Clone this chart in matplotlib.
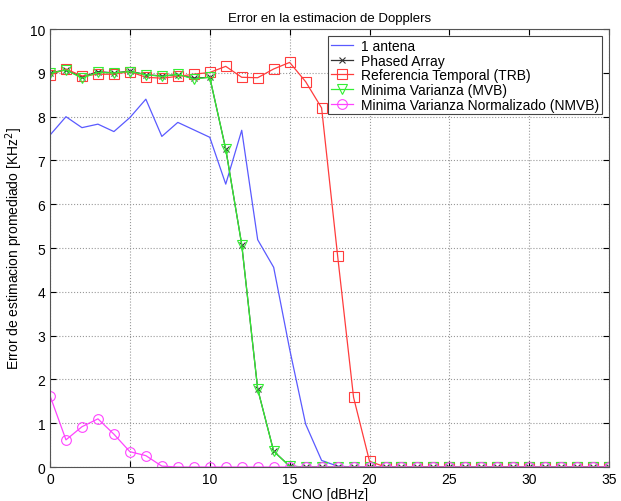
import numpy as np
import matplotlib.pyplot as plt

plt.rcParams['font.family'] = ['Liberation Sans', 'DejaVu Sans']

cno = np.arange(0, 36)

# values, tail is zero
antena = [7.58, 8.0, 7.75, 7.83, 7.66, 7.98, 8.40, 7.55, 7.87, 7.70, 7.53,
          6.46, 7.69, 5.19, 4.56, 2.69, 0.98, 0.15, 0.02] + [0.0] * 17
phased = [9.0, 9.07, 8.9, 9.03, 9.0, 9.04, 8.96, 8.93, 8.96, 8.88, 8.9,
          7.26, 5.08, 1.78, 0.36, 0.02] + [0.0] * 20
trb = [8.95, 9.09, 8.93, 8.97, 8.97, 9.03, 8.9, 8.88, 8.92, 8.97, 9.01,
       9.15, 8.9, 8.89, 9.09, 9.24, 8.8, 8.2, 4.83, 1.59, 0.13] + [0.0] * 15
mvb = [8.99, 9.07, 8.88, 9.01, 9.0, 9.03, 8.96, 8.92, 8.97, 8.86, 8.9,
       7.26, 5.08, 1.78, 0.36, 0.02] + [0.0] * 20
nmvb = [1.63, 0.62, 0.92, 1.1, 0.75, 0.35, 0.26, 0.02] + [0.0] * 28

fig = plt.figure(figsize=(6.21, 5.02), dpi=100)
ax = fig.add_axes([0.0805, 0.0677, 0.9005, 0.8723])

ax.plot(cno, antena, '-', color='#5a5aff', lw=0.9, label='1 antena')
ax.plot(cno, phased, '-x', color='#333333', lw=0.9, ms=5, mew=0.8,
        label='Phased Array')
ax.plot(cno, trb, '-s', color='#ff3c3c', lw=0.9, ms=6.5, mfc='none', mew=0.8,
        label='Referencia Temporal (TRB)')
ax.plot(cno, mvb, '-v', color='#33ee33', lw=0.9, ms=6.5, mfc='none', mew=0.8,
        label='Minima Varianza (MVB)')
ax.plot(cno, nmvb, '-o', color='#ff44ff', lw=0.9, ms=7, mfc='none', mew=0.8,
        label='Minima Varianza Normalizado (NMVB)')

ax.set_xlim(0, 35)
ax.set_ylim(0, 10)
ax.set_xticks(range(0, 36, 5))
ax.set_yticks(range(0, 11))
ax.grid(True, linestyle=':', color='#999999', lw=0.8)
ax.tick_params(direction='in', top=True, right=True, labelsize=10, length=4)
for s in ax.spines.values():
    s.set_color('#555555')

ax.set_title('Error en la estimacion de Dopplers', fontsize=9.5)
ax.set_xlabel('CNO [dBHz]', fontsize=10, labelpad=1)
ax.set_ylabel('Error de estimacion promediado [KHz$^2$]', fontsize=10)
ax.yaxis.set_label_coords(-0.045, 0.5)

leg = ax.legend(loc='upper right', fontsize=10, fancybox=False,
                framealpha=1, edgecolor='#444444', borderpad=0.2,
                labelspacing=0.05, handlelength=1.6, handletextpad=0.6,
                borderaxespad=0.5)
leg.get_frame().set_linewidth(0.8)

plt.savefig('out.png')
